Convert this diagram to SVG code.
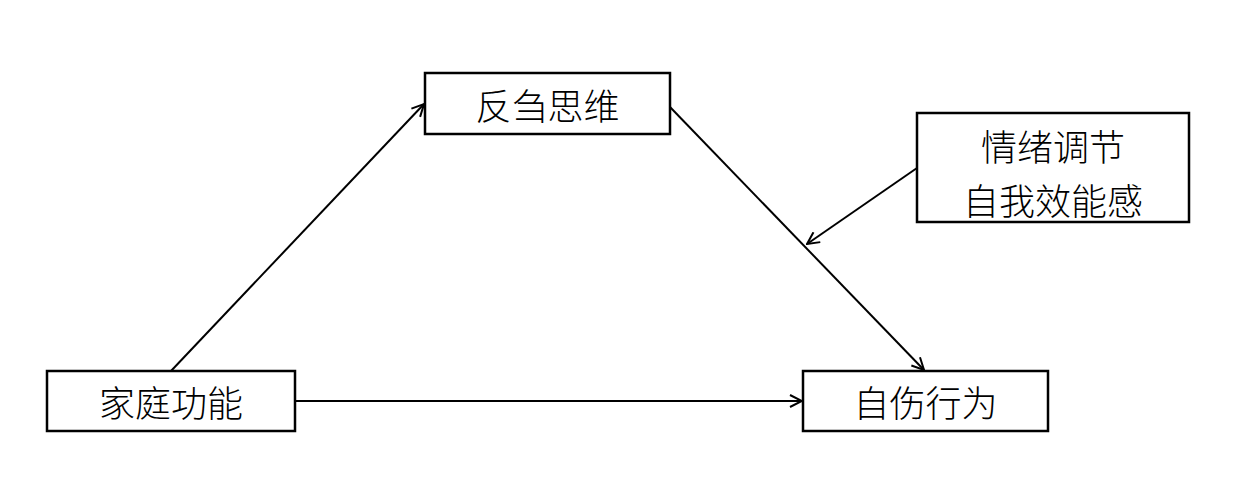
<svg xmlns="http://www.w3.org/2000/svg" width="1235" height="493" viewBox="0 0 1235 493">
<style>
.box{fill:#fff;stroke:#000;stroke-width:2.5}
.t{font-family:"Noto Sans CJK SC","Liberation Sans",sans-serif;font-size:36px;font-weight:300;fill:#000;text-anchor:middle;dominant-baseline:central}
.c{stroke:#000;stroke-width:2;fill:none;marker-end:url(#a)}
</style>
<defs>
<marker id="a" viewBox="0 0 14 14" refX="13" refY="7" markerWidth="14" markerHeight="14" markerUnits="userSpaceOnUse" orient="auto">
<path d="M1,1 L13,7 L1,13" fill="none" stroke="#000" stroke-width="2"/>
</marker>
</defs>
<rect width="1235" height="493" fill="#fff"/>
<g id="connectors">
<line class="c" x1="171" y1="371" x2="424" y2="104"/>
<line class="c" x1="670" y1="107" x2="924" y2="370"/>
<line class="c" x1="917" y1="168" x2="807" y2="244"/>
<line class="c" x1="295" y1="401" x2="802" y2="401"/>
</g>
<g id="n1"><rect class="box" x="425" y="73" width="245" height="61"/><text class="t" x="547.5" y="103.5">反刍思维</text></g>
<g id="n2"><rect class="box" x="917" y="113" width="272" height="109"/><text class="t" x="1053" y="145">情绪调节</text><text class="t" x="1053" y="198.5">自我效能感</text></g>
<g id="n3"><rect class="box" x="47" y="371" width="248" height="60"/><text class="t" x="171" y="401">家庭功能</text></g>
<g id="n4"><rect class="box" x="803" y="371" width="245" height="60"/><text class="t" x="925.5" y="401">自伤行为</text></g>
</svg>
